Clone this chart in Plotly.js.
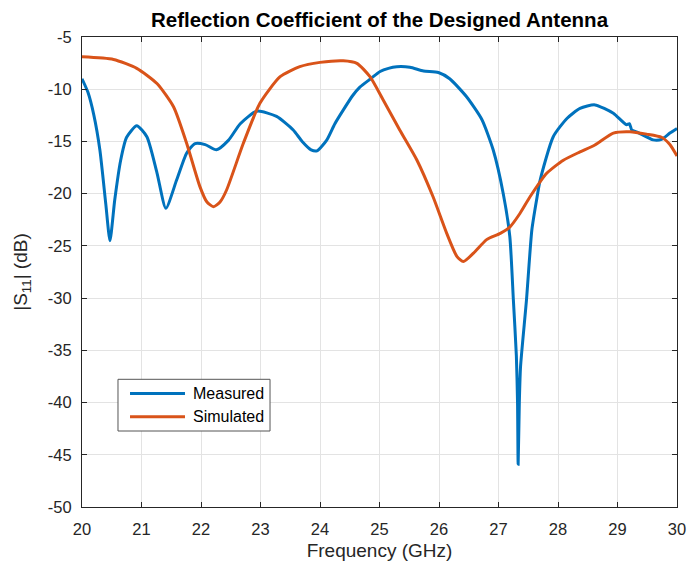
<!DOCTYPE html>
<html>
<head>
<meta charset="utf-8">
<script src="https://cdn.plot.ly/plotly-3.0.1.min.js"></script>
<style>
  html, body { margin: 0; padding: 0; background: #ffffff; }
  #chart { width: 687px; height: 564px; }
</style>
</head>
<body>
<div id="chart"></div>
<script>
// Measured |S11| (dB) versus frequency (GHz)
const measuredFreq = [20.00, 20.10, 20.20, 20.30, 20.40, 20.47, 20.55, 20.65, 20.75, 20.92,
  21.09, 21.26, 21.41, 21.59, 21.76, 21.90, 22.07, 22.26, 22.46, 22.66, 22.94, 23.27, 23.55,
  23.70, 23.85, 23.95, 24.11, 24.25, 24.39, 24.55, 24.67, 24.85, 25.01, 25.15, 25.29, 25.51,
  25.74, 25.99, 26.18, 26.46, 26.72, 26.91, 27.08, 27.19, 27.25, 27.30, 27.32, 27.33, 27.35,
  27.37, 27.47, 27.56, 27.64, 27.70, 27.92, 28.15, 28.37, 28.62, 28.93, 29.15, 29.20, 29.24,
  29.33, 29.60, 29.74, 29.88, 30.00];
const measuredDb = [-9.0, -10.3, -12.5, -15.8, -21.0, -24.5, -20.6, -16.8, -14.6, -13.5,
  -14.55, -18.0, -21.4, -18.7, -16.1, -15.2, -15.3, -15.8, -14.9, -13.3, -12.1, -12.6, -13.9,
  -15.0, -15.8, -15.9, -14.9, -13.3, -12.0, -10.6, -9.8, -9.0, -8.3, -8.0, -7.85, -7.9,
  -8.25, -8.4, -9.0, -10.7, -12.9, -15.8, -20.0, -24.1, -30.2, -35.5, -40.0, -45.9, -40.0,
  -36.6, -30.2, -23.5, -20.6, -18.7, -14.55, -12.8, -11.83, -11.5, -12.3, -13.4, -13.3, -13.9,
  -14.1, -14.85, -14.8, -14.2, -13.75];

// Simulated |S11| (dB) versus frequency (GHz)
const simulatedFreq = [20.00, 20.53, 20.92, 21.26, 21.54, 21.76, 21.98, 22.10, 22.21, 22.32,
  22.43, 22.71, 22.99, 23.33, 23.66, 24.00, 24.39, 24.62, 24.84, 25.06, 25.34, 25.63, 25.90,
  26.13, 26.30, 26.41, 26.58, 26.80, 27.03, 27.19, 27.36, 27.53, 27.81, 28.09, 28.37, 28.62,
  28.93, 29.21, 29.49, 29.74, 29.88, 30.00];
const simulatedDb = [-6.9, -7.15, -8.0, -9.45, -11.7, -15.2, -19.3, -20.8, -21.25, -20.8,
  -19.65, -15.2, -11.35, -8.8, -7.84, -7.43, -7.27, -7.52, -8.8, -11.0, -13.9, -16.8, -20.3,
  -23.8, -26.0, -26.5, -25.7, -24.4, -23.8, -23.2, -21.9, -20.3, -18.05, -16.8, -16.0, -15.34,
  -14.2, -14.07, -14.3, -14.6, -15.3, -16.4];

const seriesNames = ['Measured', 'Simulated'];
const seriesColors = ['#0072BD', '#D95319'];

const xTicks = [20, 21, 22, 23, 24, 25, 26, 27, 28, 29, 30];
const yTicks = [-50, -45, -40, -35, -30, -25, -20, -15, -10, -5];

const fontFamily = '"Liberation Sans", Arial, Helvetica, sans-serif';
const axisColor = '#262626';

const traces = [
  {
    x: measuredFreq, y: measuredDb, type: 'scatter', mode: 'lines', name: seriesNames[0],
    line: { color: seriesColors[0], width: 3, shape: 'spline', smoothing: 0.6 }
  },
  {
    x: simulatedFreq, y: simulatedDb, type: 'scatter', mode: 'lines', name: seriesNames[1],
    line: { color: seriesColors[1], width: 3, shape: 'spline', smoothing: 0.6 }
  }
];

const axisCommon = {
  showline: true, linecolor: axisColor, linewidth: 1, mirror: 'ticks',
  ticks: 'inside', ticklen: 5, tickwidth: 1, tickcolor: axisColor,
  showgrid: true, gridcolor: '#e3e3e3', gridwidth: 1, zeroline: false,
  tickfont: { family: fontFamily, size: 16.5, color: axisColor }
};

// Boxed legend in the lower left of the axes, with long sample lines
const legendBox = { x0: 0.0605, x1: 0.316, y0: 0.1617, y1: 0.2717 };
const legendRows = [0.2415, 0.1921];
const legendLineX = [0.0807, 0.1731];
const legendTextX = 0.1832;

const shapes = [{
  type: 'rect', xref: 'paper', yref: 'paper',
  x0: legendBox.x0, x1: legendBox.x1, y0: legendBox.y0, y1: legendBox.y1,
  line: { color: '#555555', width: 1 }, fillcolor: '#ffffff', layer: 'above'
}];
const annotations = [];
seriesNames.forEach((name, i) => {
  shapes.push({
    type: 'line', xref: 'paper', yref: 'paper',
    x0: legendLineX[0], x1: legendLineX[1], y0: legendRows[i], y1: legendRows[i],
    line: { color: seriesColors[i], width: 3 }, layer: 'above'
  });
  annotations.push({
    xref: 'paper', yref: 'paper', x: legendTextX, y: legendRows[i],
    xanchor: 'left', yanchor: 'middle', showarrow: false, text: name,
    font: { family: fontFamily, size: 16, color: '#000000' }
  });
});

const layout = {
  width: 687, height: 564,
  margin: { l: 82, r: 10, t: 37, b: 57 },
  paper_bgcolor: '#ffffff', plot_bgcolor: '#ffffff',
  title: {
    text: '<b>Reflection Coefficient of the Designed Antenna</b>',
    font: { family: fontFamily, size: 20.5, color: '#000000' },
    x: 0.5, xanchor: 'center', xref: 'paper', y: 0.965, yanchor: 'middle'
  },
  xaxis: Object.assign({}, axisCommon, {
    range: [20, 30], tickvals: xTicks, ticktext: xTicks.map(String), ticklabelstandoff: 7,
    title: { text: 'Frequency (GHz)', font: { family: fontFamily, size: 19, color: axisColor }, standoff: 6 }
  }),
  yaxis: Object.assign({}, axisCommon, {
    range: [-50, -5], tickvals: yTicks, ticktext: yTicks.map(String), ticklabelstandoff: 6,
    title: { text: '|S<sub>11</sub>| (dB)', font: { family: fontFamily, size: 19, color: axisColor }, standoff: 15 }
  }),
  showlegend: false,
  shapes: shapes,
  annotations: annotations
};

Plotly.newPlot('chart', traces, layout, { displayModeBar: false, staticPlot: true });
</script>
</body>
</html>
